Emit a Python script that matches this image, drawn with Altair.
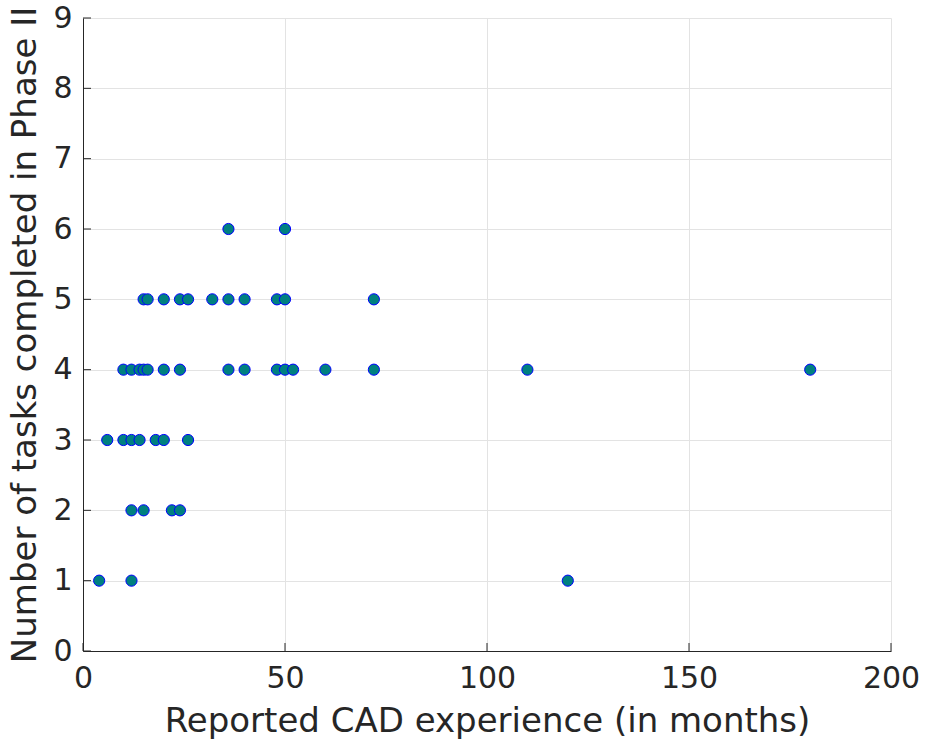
import altair as alt
import pandas as pd

# Reported CAD experience (months) and tasks completed in Phase II
experience = [36, 50,
              15, 16, 20, 24, 26, 32, 36, 40, 48, 50, 72,
              10, 12, 14, 15, 16, 20, 24, 36, 40, 48, 50, 52, 60, 72, 110, 180,
              6, 10, 12, 14, 18, 20, 26,
              12, 15, 22, 24,
              4, 12, 120]
tasks = [6, 6,
         5, 5, 5, 5, 5, 5, 5, 5, 5, 5, 5,
         4, 4, 4, 4, 4, 4, 4, 4, 4, 4, 4, 4, 4, 4, 4, 4,
         3, 3, 3, 3, 3, 3, 3,
         2, 2, 2, 2,
         1, 1, 1]

x_ticks = [0, 50, 100, 150, 200]
y_ticks = [0, 1, 2, 3, 4, 5, 6, 7, 8, 9]

df = pd.DataFrame({"experience": experience, "tasks": tasks})
xt = pd.DataFrame({"v": x_ticks})
yt = pd.DataFrame({"v": y_ticks})

W, H = 808, 633
INK = "#262626"
FONT = "DejaVu Sans"

x_scale = alt.Scale(domain=[0, 200], nice=False, zero=False)
y_scale = alt.Scale(domain=[0, 9], nice=False, zero=False)

points = alt.Chart(df).mark_point(
    shape="circle", filled=True, size=125,
    fill="#008080", stroke="#0000ff", strokeWidth=1, opacity=1
).encode(
    x=alt.X("experience:Q", scale=x_scale,
            axis=alt.Axis(values=x_ticks, title="Reported CAD experience (in months)",
                          format="d", ticks=False, labelPadding=12,
                          titlePadding=11, labelFlush=False)),
    y=alt.Y("tasks:Q", scale=y_scale,
            axis=alt.Axis(values=y_ticks, title="Number of tasks completed in Phase II",
                          format="d", ticks=False, labelPadding=11,
                          titlePadding=10, labelFlush=False)),
)

# inward-pointing tick marks along the two axes
x_tick_marks = alt.Chart(xt).mark_rule(color=INK, strokeWidth=1).encode(
    x=alt.X("v:Q", scale=x_scale),
    y=alt.value(H), y2=alt.value(H - 8),
)
y_tick_marks = alt.Chart(yt).mark_rule(color=INK, strokeWidth=1).encode(
    y=alt.Y("v:Q", scale=y_scale),
    x=alt.value(0), x2=alt.value(8),
)

chart = alt.layer(points, x_tick_marks, y_tick_marks).properties(
    width=W, height=H,
    autosize=alt.AutoSizeParams(type="none"),
    padding={"left": 83, "top": 18, "right": 35, "bottom": 93},
).configure_view(
    stroke=None
).configure_axis(
    grid=True, gridColor="#e3e3e3", gridWidth=1,
    domainColor=INK, domainWidth=1,
    labelFont=FONT, labelFontSize=30, labelColor=INK,
    titleFont=FONT, titleFontSize=34, titleColor=INK, titleFontWeight="normal",
)

chart.save("out.html", embed_options={"renderer": "svg", "actions": False})
